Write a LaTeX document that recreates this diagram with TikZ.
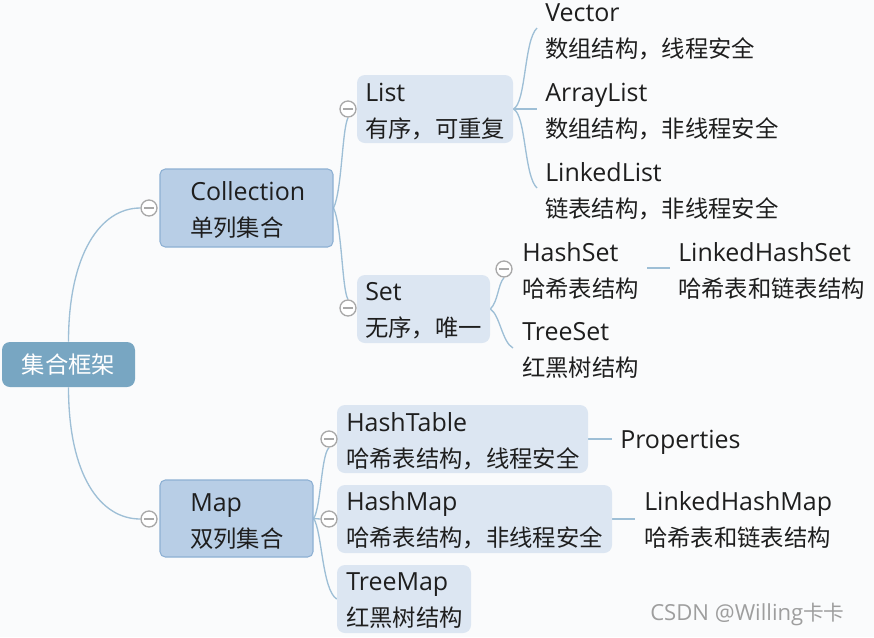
\documentclass[tikz,border=0pt]{standalone}
\usepackage{fontspec}
\setmainfont[Scale=1.07]{Open Sans}
\newfontfamily\cjk{Noto Sans CJK SC}
\usetikzlibrary{fit,backgrounds}
\definecolor{bgc}{HTML}{FAFBFC}
\definecolor{rootc}{HTML}{78A6C2}
\definecolor{midc}{HTML}{B8CEE6}
\definecolor{midb}{HTML}{8DB0D3}
\definecolor{leafc}{HTML}{DCE6F2}
\definecolor{linec}{HTML}{9EBFD6}
\definecolor{txtc}{HTML}{1E1E1E}
\definecolor{circc}{HTML}{A8A8A8}
\tikzset{
 conn/.style={draw=linec, line width=1pt},
 rootbox/.style={fill=rootc, rounded corners=6pt, inner sep=0pt},
 midbox/.style={fill=midc, draw=midb, line width=0.8pt, rounded corners=4pt, inner sep=0pt},
 leafbox/.style={fill=leafc, rounded corners=6pt, inner sep=0pt},
 lbl/.style={anchor=base west, inner sep=0pt, align=left, text=txtc, font=\fontsize{17.5}{27}\selectfont},
 minus/.style={circle, draw=circc, line width=1pt, fill=white, minimum size=12pt, inner sep=0pt,
   path picture={\draw[circc, line width=1pt] ([xshift=-3.6pt]path picture bounding box.center) -- ([xshift=3.6pt]path picture bounding box.center);}},
}
\begin{document}
\begin{tikzpicture}[x=0.75pt,y=-0.75pt]
\useasboundingbox (0,0) rectangle (874,637);
% boxes (label anchors are at the baseline of the second line)
\node[rootbox, fit={(2,342)(135,387)}] (root) {};
\node[inner sep=0pt, text=white, font=\fontsize{17.5}{27}\selectfont] (rootT) at (68.5,364.5) {\cjk 集合框架};
\node[midbox, fit={(160,169)(333,247)}] (coll) {};
\node[lbl] (collT) at (190,236) {Collection\\{\cjk 单列集合}};
\node[midbox, fit={(160,480)(313,557)}] (map) {};
\node[lbl] (mapT) at (190,547) {Map\\{\cjk 双列集合}};
\node[leafbox, fit={(357,75)(513,143)}] (lst) {};
\node[lbl] (lstT) at (365,137) {List\\{\cjk 有序，可重复}};
\node[leafbox, fit={(357,275)(490,343)}] (st) {};
\node[lbl] (stT) at (365,336) {Set\\{\cjk 无序，唯一}};
\node[leafbox, fit={(337,405)(588,473)}] (ht) {};
\node[lbl] (htT) at (346,467) {HashTable\\{\cjk 哈希表结构，线程安全}};
\node[leafbox, fit={(337,485)(612,553)}] (hm) {};
\node[lbl] (hmT) at (346,546) {HashMap\\{\cjk 哈希表结构，非线程安全}};
\node[leafbox, fit={(337,565)(471,633)}] (tm) {};
\node[lbl] (tmT) at (346,626) {TreeMap\\{\cjk 红黑树结构}};
% leaves
\node[lbl] (vec) at (545,57) {Vector\\{\cjk 数组结构，线程安全}};
\node[lbl] (al) at (545,137) {ArrayList\\{\cjk 数组结构，非线程安全}};
\node[lbl] (ll) at (545,217) {LinkedList\\{\cjk 链表结构，非线程安全}};
\node[lbl] (hs) at (522,297) {HashSet\\{\cjk 哈希表结构}};
\node[lbl] (ts) at (522,376) {TreeSet\\{\cjk 红黑树结构}};
\node[lbl] (lhs) at (678,297) {LinkedHashSet\\{\cjk 哈希表和链表结构}};
\node[lbl] (prop) at (620,448) {Properties};
\node[lbl] (lhm) at (644,546) {LinkedHashMap\\{\cjk 哈希表和链表结构}};
% circles
\node[minus] (c0) at (149,208) {};
\node[minus] (c1) at (149,519) {};
\node[minus] (cL) at (348,109) {};
\node[minus] (cS) at (348,308) {};
\node[minus] (cHS) at (504,269) {};
\node[minus] (cHT) at (329,439) {};
\node[minus] (cHM) at (329,519) {};
% free ends
\coordinate (vE) at (537,28);
\coordinate (aE) at (537,109);
\coordinate (lE) at (537,188);
\coordinate (tsE) at (513,348);
\coordinate (hsA) at (647,268);
\coordinate (hsB) at (670,268);
\coordinate (pE) at (612,439);
\coordinate (lhmE) at (635,519);
\node[anchor=base west, inner sep=0pt, text=black!38, font=\fontsize{15.5}{16}\selectfont] (wm) at (650,620) {CSDN @Willing{\cjk 卡卡}};
\begin{pgfonlayer}{background}
\fill[bgc] (0,0) rectangle (874,637);
\draw[conn] (root.north) .. controls (68.5,255) and (100,208) .. (c0.west);
\draw[conn] (root.south) .. controls (68.5,475) and (100,519) .. (c1.west);
\draw[conn] (coll.east) .. controls (342,190) and (342,130) .. (cL.south);
\draw[conn] (coll.east) .. controls (342,226) and (342,290) .. (cS.north);
\draw[conn] (lst.east) -- (aE);
\draw[conn] (lst.east) .. controls (526,104) and (524,40) .. (vE);
\draw[conn] (lst.east) .. controls (526,114) and (524,176) .. (lE);
\draw[conn] (st.east) .. controls (498,302) and (498,284) .. (cHS.south);
\draw[conn] (st.east) .. controls (500,315) and (502,342) .. (tsE);
\draw[conn] (hsA) -- (hsB);
\draw[conn] (map.east) .. controls (321,508) and (321,455) .. (cHT.south);
\draw[conn] (map.east) -- (cHM.west);
\draw[conn] (map.east) .. controls (322,530) and (322,590) .. (tm.west);
\draw[conn] (ht.east) -- (pE);
\draw[conn] (hm.east) -- (lhmE);
\end{pgfonlayer}
\end{tikzpicture}
\end{document}
